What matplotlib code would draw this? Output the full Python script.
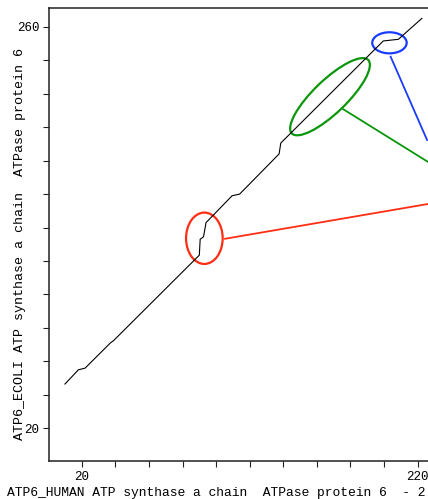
import matplotlib
matplotlib.use("Agg")
import matplotlib.pyplot as plt
from matplotlib.patches import Ellipse
from matplotlib.ticker import FixedLocator, FuncFormatter

# Alignment path of the dot plot (residue positions in each sequence)
human_pos = [10, 18, 22, 37, 39, 90, 90.5, 92.5, 94, 95.5, 109.5, 114,
             137.5, 138.5, 199.5, 208.5, 222.5]
ecoli_pos = [46.5, 55, 56, 71, 72.5, 123.5, 133, 134.5, 143, 144.5, 159, 160,
             184, 190.5, 251.5, 252.5, 265]

x_ticks = list(range(20, 221, 20))
y_ticks = list(range(20, 261, 20))
x_labelled = [20, 220]
y_labelled = [20, 260]

x_title = "ATP6_HUMAN ATP synthase a chain  ATPase protein 6  - 2"
y_title = "ATP6_ECOLI ATP synthase a chain  ATPase protein 6"

# Highlighted regions: (centre x, centre y, width, height, angle, colour)
highlights = [
    (93.0, 133.6, 21.8, 30.7, 0, "#ff2d12"),
    (167.8, 218.2, 63.2, 19.7, 44, "#0a960a"),
    (203.2, 250.4, 20.5, 12.6, 0, "#1a3cff"),
]
# Pointer lines leaving each highlight: (x0, y0, x1, y1, colour)
pointers = [
    (105.3, 133.3, 226.2, 154.1, "#ff2d12"),
    (175.7, 210.7, 226.2, 179.2, "#0a960a"),
    (203.9, 242.1, 225.6, 192.3, "#1a3cff"),
]

W, H = 428, 499
fig = plt.figure(figsize=(W / 100, H / 100), dpi=100)
mono = "Liberation Mono"

ax = fig.add_axes([49 / W, (H - 461) / H, 379.6 / W, 453.5 / H])
ax.set_xlim(0.5, 226.5)
ax.set_ylim(0.5, 271.5)

ax.plot(human_pos, ecoli_pos, color="black", lw=0.8, solid_joinstyle="miter")

for cx, cy, w, h, ang, col in highlights:
    ax.add_patch(Ellipse((cx, cy), w, h, angle=ang, fill=False,
                         edgecolor=col, lw=1.6, clip_on=False))
for x0, y0, x1, y1, col in pointers:
    ax.plot([x0, x1], [y0, y1], color=col, lw=1.3, clip_on=False)

ax.xaxis.set_major_locator(FixedLocator(x_ticks))
ax.yaxis.set_major_locator(FixedLocator(y_ticks))
ax.xaxis.set_major_formatter(FuncFormatter(lambda v, p: f"{int(v)}" if int(v) in x_labelled else ""))
ax.yaxis.set_major_formatter(FuncFormatter(lambda v, p: f"{int(v)}" if int(v) in y_labelled else ""))
ax.tick_params(direction="out", length=4.5, width=0.8, color="#222222",
               labelsize=9, pad=2.5)
for lab in ax.get_xticklabels() + ax.get_yticklabels():
    lab.set_fontfamily(mono)
for s in ax.spines.values():
    s.set_linewidth(1.1)
    s.set_color("#222222")

fig.text(7.3 / W, 1 - 493 / H, x_title, ha="left", va="center",
         fontfamily=mono, fontsize=9.4)
fig.text(20 / W, 1 - 244.5 / H, y_title, ha="center", va="center",
         rotation=90, fontfamily=mono, fontsize=9.6)

fig.savefig("out.png", dpi=100)
